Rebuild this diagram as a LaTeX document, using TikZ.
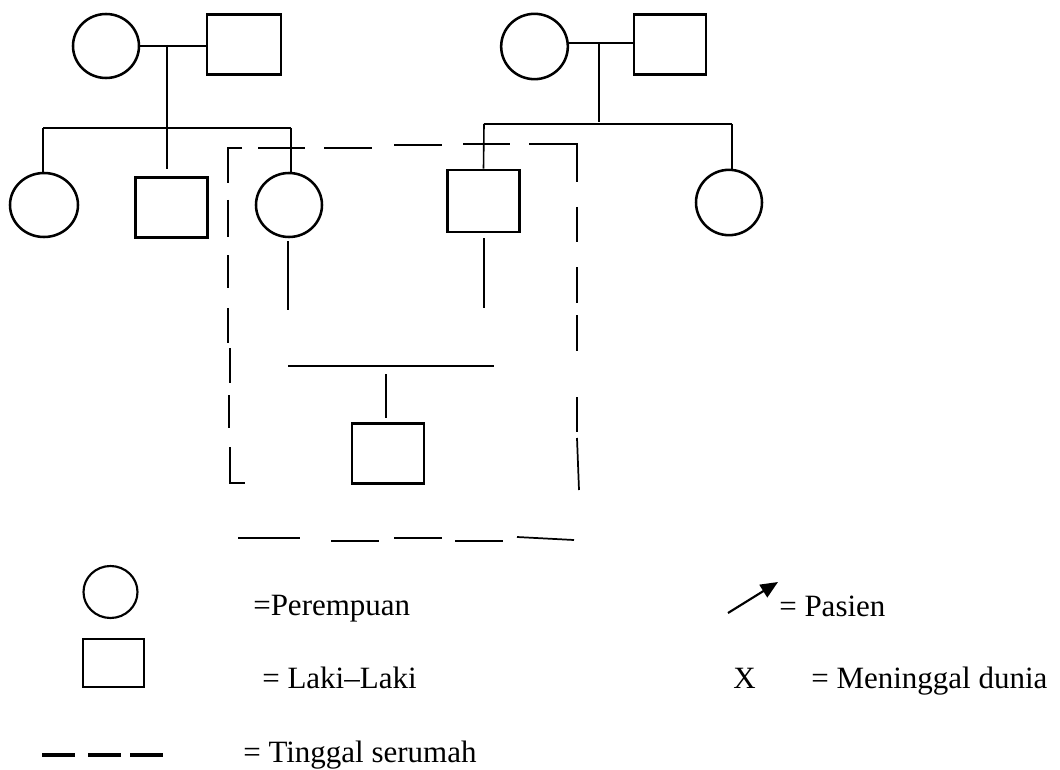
\documentclass[tikz,border=0pt]{standalone}
\usepackage{fontspec}
\setmainfont{Liberation Serif}
\usetikzlibrary{shapes.geometric,arrows.meta,calc}
\begin{document}
\begin{tikzpicture}[x=0.75pt,y=-0.75pt,
  female/.style={ellipse,draw,line width=1.9pt,inner sep=0pt},
  male/.style={rectangle,draw,line width=2.1pt,inner sep=0pt},
  link/.style={line width=1.2pt},
  boxdash/.style={line width=1.3pt},
  legdash/.style={line width=2.6pt},
  lbl/.style={anchor=base west,inner sep=0pt,font=\fontsize{23.25}{28}\selectfont}]
\useasboundingbox (0,0) rectangle (1060,770);
\fill[white] (0,0) rectangle (1060,770);
% left family
\node[female,minimum width=66pt*0.75/0.75*0.75/0.75,minimum width=49.5pt,minimum height=48pt] (gm1) at (106,46) {};
\node[male,minimum width=55.5pt,minimum height=45.5pt] (gf1) at (244,44.5) {};
\node[female,minimum width=51pt,minimum height=48pt] (c1) at (44,205) {};
\node[male,minimum width=54.5pt,minimum height=45.5pt] (c2) at (171.5,207.5) {};
\node[female,minimum width=49.5pt,minimum height=48pt] (mom) at (289,205) {};
% right family
\node[female,minimum width=50pt,minimum height=49pt] (gm2) at (534.5,46.5) {};
\node[male,minimum width=54pt,minimum height=45.5pt] (gf2) at (670,44.5) {};
\node[male,minimum width=54.5pt,minimum height=46.5pt] (dad) at (483.5,201) {};
\node[female,minimum width=49.5pt,minimum height=49pt] (c5) at (729,202.5) {};
% patient
\node[male,minimum width=54pt,minimum height=45.5pt] (pat) at (388,453.5) {};
% coordinates
\coordinate (m1) at (167,45);
\coordinate (s1) at (167,128);
\coordinate (s1l) at (43,128);
\coordinate (s1r) at (291,128);
\coordinate (c2top) at (167,169);
\coordinate (m2) at (599,43);
\coordinate (s2) at (599,122);
\coordinate (s2l) at (484,124);
\coordinate (s2r) at (732,124);
\coordinate (momd) at (288,310);
\coordinate (dadd) at (484,308);
\coordinate (ml) at (288,366);
\coordinate (mr) at (494,366);
\coordinate (pd) at (386,374);
% connectors
\draw[link] (gm1.east) -- (gm1.east -| gf1.west);
\draw[link] (m1) -- (c2top);
\draw[link] (s1l) -- (s1r);
\draw[link] (s1l) -- (s1l |- c1.north);
\draw[link] (s1r) -- (s1r |- mom.north);
\draw[link] (gm2.east |- m2) -- (m2 -| gf2.west);
\draw[link] (m2) -- (s2);
\draw[link] (s2l) -- (s2r);
\draw[link] (s2l) -- (dad.north);
\draw[link] (s2r) -- (s2r |- c5.north);
\draw[link] ($(mom.south)+(-1,3)$) -- (momd);
\draw[link] ($(dad.south)+(0.5,5)$) -- (dadd);
\draw[link] (ml) -- (mr);
\draw[link] (pd) -- ($(pd)+(0,44)$);
% dashed household box
\draw[boxdash] (242,148) -- (228,148) -- (228,183);
\draw[boxdash] (258,148) -- (305,148);
\draw[boxdash] (324,148) -- (372,148);
\draw[boxdash] (394,145) -- (442,145);
\draw[boxdash] (463,144) -- (510,144);
\draw[boxdash] (529,144) -- (577,144) -- (577,182);
\draw[boxdash] (228,200) -- (228,237);
\draw[boxdash] (228,255) -- (228,288);
\draw[boxdash] (228,308) -- (228,343);
\draw[boxdash] (230,348) -- (230,383);
\draw[boxdash] (229,395) -- (229,428);
\draw[boxdash] (230,447) -- (230,483) -- (245,483);
\draw[boxdash] (577,207) -- (577,242);
\draw[boxdash] (577,267) -- (577,303);
\draw[boxdash] (577,315) -- (577,351);
\draw[boxdash] (577,397) -- (577,432);
\draw[boxdash] (577,438) -- (579,490);
\draw[boxdash] (238,538) -- (300,538);
\draw[boxdash] (331,541) -- (379,541);
\draw[boxdash] (394,538) -- (442,538);
\draw[boxdash] (455,541) -- (503,541);
\draw[boxdash] (517,537) -- (574,540);
% legend
\node[female,line width=1.6pt,minimum width=40.5pt,minimum height=39pt] (lc) at (110.5,592) {};
\node[male,line width=1.6pt,minimum width=46pt,minimum height=36pt] (ls) at (113.5,663) {};
\draw[legdash] (42,755) -- (75,755);
\draw[legdash] (88,755) -- (121,755);
\draw[legdash] (130,755) -- (163,755);
\node[lbl] (t1) at (253,615) {=Perempuan};
\node[lbl] (t2) at (262,688) {= Laki–Laki};
\node[lbl] (t3) at (243,762) {= Tinggal serumah};
\coordinate (a0) at (728,613);
\coordinate (a1) at (778,582);
\draw[line width=1.6pt,-{Triangle[length=13pt*0.75/0.75,width=11pt]}] (a0) -- (a1);
\node[lbl] (t4) at (779,616) {= Pasien};
\node[lbl] (tx) at (733,688) {X};
\node[lbl] (t5) at (811,688) {= Meninggal dunia};
\end{tikzpicture}
\end{document}
